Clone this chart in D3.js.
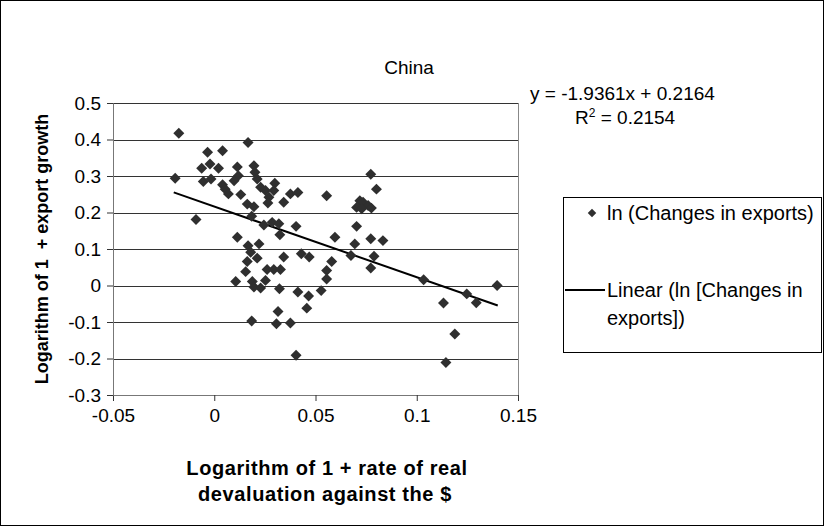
<!DOCTYPE html>
<html>
<head>
<meta charset="utf-8">
<script src="https://cdn.jsdelivr.net/npm/d3@7"></script>
<style>
    body { margin: 0; background: #fff; }
    svg { display: block; font-family: "Liberation Sans", Arial, sans-serif; }
</style>
</head>
<body>
<div class="chart"></div>
<script>
// log(1 + real devaluation against the $)
const devaluation = [
    -0.0175, -0.0193, -0.009, -0.0033, 0.0041, -0.0021, -0.0062, 0.0021, -0.0054, -0.0016,
    0.0114, 0.0196, 0.0201, 0.0119, 0.0098, 0.0041, 0.0054, 0.007, 0.0131, 0.0167,
    0.0212, 0.0229, 0.0253, 0.0299, 0.0294, 0.027, 0.0265, 0.0343, 0.0376, 0.0413,
    0.0163, 0.0196, 0.0185, 0.0245, 0.0286, 0.0319, 0.0404, 0.0324, 0.0114, 0.0167,
    0.0221, 0.018, 0.0212, 0.0163, 0.0343, 0.043, 0.0155, 0.0261, 0.0294, 0.0327,
    0.0106, 0.0188, 0.0253, 0.0196, 0.0229, 0.0322, 0.0413, 0.0185, 0.0315, 0.0307,
    0.0376, 0.0404, 0.0596, 0.0773, 0.0833, 0.0694, 0.0469, 0.0675, 0.0789, 0.058,
    0.0773, 0.0555, 0.0555, 0.0528, 0.0466, 0.0457, 0.0703, 0.0555, 0.0773, 0.0801,
    0.0719, 0.0735, 0.0703, 0.076, 0.0776, 0.0728, 0.1034, 0.1397, 0.1247, 0.1294,
    0.1132, 0.1188, 0.1144
];

// log(1 + export growth)
const exportGrowth = [
    0.417, 0.294, 0.181, 0.365, 0.369, 0.333, 0.321, 0.321, 0.285, 0.292,
    0.325, 0.328, 0.310, 0.301, 0.287, 0.276, 0.264, 0.251, 0.249, 0.392,
    0.292, 0.269, 0.260, 0.280, 0.260, 0.242, 0.226, 0.228, 0.251, 0.255,
    0.223, 0.216, 0.190, 0.166, 0.173, 0.169, 0.162, 0.139, 0.132, 0.109,
    0.114, 0.091, 0.075, 0.066, 0.078, 0.087, 0.038, 0.044, 0.044, 0.044,
    0.011, 0.011, 0.014, -0.004, -0.007, -0.009, -0.018, -0.097, -0.071, -0.105,
    -0.103, -0.191, 0.132, 0.128, 0.123, 0.114, 0.078, 0.082, 0.080, 0.066,
    0.048, 0.041, 0.018, -0.014, -0.029, -0.062, 0.162, 0.246, 0.305, 0.264,
    0.232, 0.228, 0.214, 0.219, 0.212, 0.210, 0.016, 0.0, -0.023, -0.047,
    -0.048, -0.133, -0.211
];

const xTicks = [-0.05, 0, 0.05, 0.1, 0.15];
const yTicks = [-0.3, -0.2, -0.1, 0, 0.1, 0.2, 0.3, 0.4, 0.5];

// linear trend reported on the chart
const trendSlope = -1.9361;
const trendIntercept = 0.2164;
const trendR2 = 0.2154;
const trendRange = [-0.02, 0.14];

const legendLabels = ["ln (Changes in exports)", ["Linear (ln [Changes in", "exports])"]];

const W = 824, H = 526;
const margin = { top: 103, right: 306, bottom: 131, left: 113 };
const width = W - margin.left - margin.right;
const height = H - margin.top - margin.bottom;
const pointColor = "#2f2f2f";

const root = d3.select(".chart")
    .append("svg")
    .attr("width", W)
    .attr("height", H);

// outer frame
root.append("rect")
    .attr("x", 0.5).attr("y", 0.5)
    .attr("width", W - 1).attr("height", H - 1)
    .attr("fill", "#fff")
    .attr("stroke", "#000");

root.append("text")
    .attr("x", 409).attr("y", 74)
    .attr("text-anchor", "middle")
    .style("font-size", "19px")
    .text("China");

const svg = root.append("g")
    .attr("transform", `translate(${margin.left},${margin.top})`);

const x = d3.scaleLinear().domain([-0.05, 0.15]).range([0, width]);
const y = d3.scaleLinear().domain([-0.3, 0.5]).range([height, 0]);

// horizontal gridlines
svg.append("g")
    .selectAll("line")
    .data(yTicks)
    .join("line")
    .attr("x1", 0).attr("x2", width)
    .attr("y1", d => Math.round(y(d)) + 0.5)
    .attr("y2", d => Math.round(y(d)) + 0.5)
    .attr("stroke", "#333");

// right border of plot
svg.append("line")
    .attr("x1", width + 0.5).attr("x2", width + 0.5)
    .attr("y1", 0).attr("y2", height)
    .attr("stroke", "#888");

// axes (plain hyphen for negatives, like the original)
const fmt = d => String(+d.toFixed(2));

const xAxis = svg.append("g")
    .attr("transform", `translate(0,${height})`)
    .call(d3.axisBottom(x).tickValues(xTicks).tickSize(6).tickPadding(8).tickFormat(fmt));

const yAxis = svg.append("g")
    .call(d3.axisLeft(y).tickValues(yTicks).tickSize(6).tickPadding(6).tickFormat(fmt));

[xAxis, yAxis].forEach(a => {
    a.selectAll("path").attr("stroke", "#777");
    a.selectAll("line").attr("stroke", "#333");
    a.selectAll("text")
        .attr("fill", "#000")
        .style("font-family", "Liberation Sans, Arial, sans-serif")
        .style("font-size", "19px");
});

// trend line
svg.append("line")
    .attr("x1", x(trendRange[0]))
    .attr("y1", y(trendSlope * trendRange[0] + trendIntercept))
    .attr("x2", x(trendRange[1]))
    .attr("y2", y(trendSlope * trendRange[1] + trendIntercept))
    .attr("stroke", "#000")
    .attr("stroke-width", 2);

// points
const diamond = d3.symbol().type(d3.symbolSquare).size(60);
svg.selectAll(".pt")
    .data(devaluation.map((d, i) => [d, exportGrowth[i]]))
    .join("path")
    .attr("class", "pt")
    .attr("d", diamond)
    .attr("transform", d => `translate(${x(d[0])},${y(d[1])}) rotate(45)`)
    .attr("fill", pointColor);

// axis titles
root.append("text")
    .attr("transform", "translate(48,249) rotate(-90)")
    .attr("text-anchor", "middle")
    .attr("xml:space", "preserve")
    .style("font-size", "18px")
    .style("font-weight", "bold")
    .text("Logarithm of 1  + export growth");

const xt = root.append("text")
    .attr("text-anchor", "middle")
    .style("font-size", "20px")
    .style("font-weight", "bold")
    .style("letter-spacing", "0.6px");
xt.append("tspan").attr("x", 327).attr("y", 475).text("Logarithm of 1 + rate of real");
xt.append("tspan").attr("x", 325).attr("y", 501).text("devaluation against the $");

// regression label
root.append("text")
    .attr("x", 530).attr("y", 100)
    .style("font-size", "19px")
    .text(`y = ${trendSlope}x + ${trendIntercept}`);

const r2 = root.append("text")
    .attr("x", 575).attr("y", 124)
    .style("font-size", "19px");
r2.append("tspan").text("R");
r2.append("tspan").attr("dy", -7).style("font-size", "12px").text("2");
r2.append("tspan").attr("dy", 7).text(` = ${trendR2}`);

// legend
const legend = root.append("g");
legend.append("rect")
    .attr("x", 563.5).attr("y", 197.5)
    .attr("width", 258).attr("height", 155)
    .attr("fill", "#fff")
    .attr("stroke", "#000");

legend.append("path")
    .attr("d", d3.symbol().type(d3.symbolSquare).size(36))
    .attr("transform", "translate(592,213) rotate(45)")
    .attr("fill", pointColor);
legend.append("text")
    .attr("x", 607).attr("y", 220)
    .style("font-size", "20px")
    .text(legendLabels[0]);

legend.append("line")
    .attr("x1", 565).attr("x2", 605)
    .attr("y1", 290).attr("y2", 290)
    .attr("stroke", "#000").attr("stroke-width", 2);
const lt = legend.append("text").style("font-size", "20px");
lt.append("tspan").attr("x", 607).attr("y", 297).text(legendLabels[1][0]);
lt.append("tspan").attr("x", 607).attr("y", 325).text(legendLabels[1][1]);
</script>
</body>
</html>
